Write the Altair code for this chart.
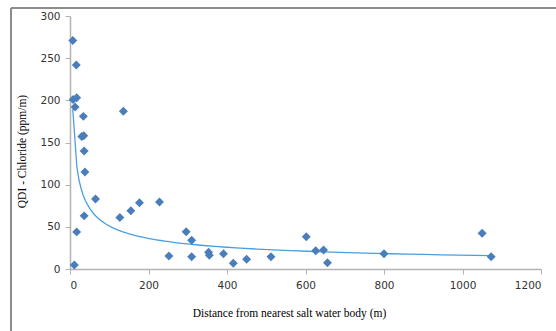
import altair as alt
import pandas as pd

distance = [7, 16, 8, 17, 13, 34, 30, 35, 36, 38, 136, 36, 65, 17, 11,
            127, 155, 177, 228, 252, 296, 310, 310, 353, 355, 391, 416, 450,
            512, 602, 626, 646, 656, 800, 1050, 1073]
chloride = [271, 242, 201, 203, 192, 181, 157, 158, 140, 115, 187, 63, 83, 44, 4.7,
            61, 69, 78.5, 79.4, 15.4, 44.2, 34, 14.6, 19.8, 16.2, 18.1, 6.8, 11.5,
            14.6, 38.3, 21.7, 22.5, 7.5, 18.1, 42.3, 14.6]

df = pd.DataFrame({"x": distance, "y": chloride})

xscale = alt.Scale(domain=[0, 1200], nice=False)
yscale = alt.Scale(domain=[0, 300], nice=False)

xaxis = alt.Axis(
    title="Distance from nearest salt water body (m)",
    values=[0, 200, 400, 600, 800, 1000, 1200], format="d",
    grid=False, tickSize=5, labelPadding=6,
    titleX=219, titleY=44, titleBaseline="middle", titleAnchor="start", titleAlign="center",
)
yaxis = alt.Axis(
    title="QDI - Chloride (ppm/m)",
    values=[0, 50, 100, 150, 200, 250, 300], format="d",
    grid=False, tickSize=5, labelPadding=5,
    titleX=-48, titleY=135, titleAngle=-90, titleBaseline="middle", titleAlign="center",
)

base = alt.Chart(df)

points = base.mark_point(shape="diamond", filled=True, size=80, opacity=1, color="#4a7ebb").encode(
    x=alt.X("x:Q", scale=xscale, axis=xaxis),
    y=alt.Y("y:Q", scale=yscale, axis=yaxis),
)

trend = base.transform_regression("x", "y", method="pow").mark_line(
    color="#4a9fe0", strokeWidth=1.3
).encode(
    x=alt.X("x:Q", scale=xscale),
    y=alt.Y("y:Q", scale=yscale),
)

border_top = alt.Chart(df).mark_rule(color="#8c8c8c", strokeWidth=1.2).encode(
    x=alt.value(-59), x2=alt.value(600), y=alt.value(-8)
)
border_left = alt.Chart(df).mark_rule(color="#8c8c8c", strokeWidth=1.2).encode(
    x=alt.value(-59), y=alt.value(-8), y2=alt.value(400)
)

chart = alt.layer(trend, points, border_top, border_left).properties(
    width=471, height=253,
    autosize=alt.AutoSizeParams(type="none"),
    padding={"left": 70, "top": 16, "right": 15, "bottom": 62},
    background="white",
).configure_view(stroke=None).configure_axis(
    labelFont="DejaVu Sans", labelFontSize=10.5, labelColor="#333333",
    domainColor="#b3b3b3", domainWidth=1.5, tickColor="#b3b3b3", tickWidth=1,
    titleFont="Liberation Serif", titleFontSize=11.5, titleFontWeight="normal", titleColor="#000000",
)

chart.save("out.html", embed_options={"renderer": "svg", "actions": False})
